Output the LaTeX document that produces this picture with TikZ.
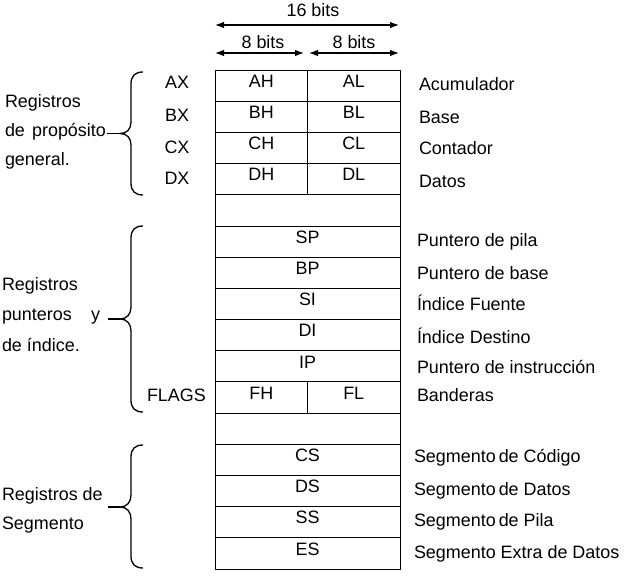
\documentclass[tikz,border=0pt]{standalone}
\usepackage{fontspec}
\setmainfont{Liberation Sans}
\usetikzlibrary{arrows.meta}
\begin{document}
\begin{tikzpicture}[x=1bp,y=-1bp,
  every node/.style={font=\fontsize{18}{21}\selectfont, inner sep=0pt, outer sep=0pt},
  cell/.style={draw, line width=0.9bp, minimum height=31.19bp, anchor=north west},
  full/.style={cell, minimum width=185bp},
  half/.style={cell, minimum width=92.5bp},
  txt/.style={anchor=base},
  lbl/.style={anchor=base west},
  arr/.style={{Latex[length=9bp,width=6.5bp]}-{Latex[length=9bp,width=6.5bp]}, line width=1.1bp},
  brace/.style={line width=1.3bp}]
\useasboundingbox (0,0) rectangle (626,587);

% ---- table cells ----
\node[half] (ah) at (215,70) {};       \node[half] (al) at (307.5,70) {};
\node[half] (bh) at (215,101.19) {};   \node[half] (bl) at (307.5,101.19) {};
\node[half] (ch) at (215,132.38) {};   \node[half] (cl) at (307.5,132.38) {};
\node[half] (dh) at (215,163.57) {};   \node[half] (dl) at (307.5,163.57) {};
\node[full] (e1) at (215,194.76) {};
\node[full] (sp) at (215,225.95) {};
\node[full] (bp) at (215,257.14) {};
\node[full] (si) at (215,288.33) {};
\node[full] (di) at (215,319.52) {};
\node[full] (ip) at (215,350.71) {};
\node[half] (fh) at (215,381.9) {};    \node[half] (fl) at (307.5,381.9) {};
\node[full] (e2) at (215,413.09) {};
\node[full] (cs) at (215,444.28) {};
\node[full] (ds) at (215,475.47) {};
\node[full] (ss) at (215,506.66) {};
\node[full] (es) at (215,537.85) {};

% ---- cell texts ----
\foreach \n/\t in {ah/AH,al/AL,bh/BH,bl/BL,ch/CH,cl/CL,dh/DH,dl/DL,sp/SP,bp/BP,si/SI,di/DI,ip/IP,fh/FH,fl/FL,cs/CS,ds/DS,ss/SS,es/ES}
  \node[txt] at ([yshift=-17.3bp]\n.north) {\t};

% ---- width arrows ----
\coordinate (a16l) at (215,25); \coordinate (a16r) at (399,25);
\draw[arr] (a16l) -- (a16r);
\node[txt] (t16) at (313,16.7) {16 bits};
\coordinate (a8al) at (215,53); \coordinate (a8ar) at (304,53);
\coordinate (a8bl) at (309,53); \coordinate (a8br) at (399,53);
\draw[arr] (a8al) -- (a8ar);
\draw[arr] (a8bl) -- (a8br);
\node[txt] (t8a) at (263,48.3) {8 bits};
\node[txt] (t8b) at (354,48.3) {8 bits};

% ---- left register names ----
\node[txt] (ax) at (177,88.3) {AX};
\node[txt] (bx) at (177,121.7) {BX};
\node[txt] (cx) at (177,153.3) {CX};
\node[txt] (dx) at (177,185) {DX};
\node[lbl] (flags) at (147,401.7) {FLAGS};

% ---- right descriptions ----
\node[lbl] (d1) at (419,90.7) {Acumulador};
\node[lbl] (d2) at (419,123.3) {Base};
\node[lbl] (d3) at (419,154.3) {Contador};
\node[lbl] (d4) at (419,187.7) {Datos};
\node[lbl] (d5) at (417,246.7) {Puntero de pila};
\node[lbl] (d6) at (417,279) {Puntero de base};
\node[lbl] (d7) at (417,310) {Índice Fuente};
\node[lbl] (d8) at (417,343.3) {Índice Destino};
\node[lbl] (d9) at (417,373.3) {Puntero de instrucción};
\node[lbl] (d10) at (417,401.7) {Banderas};
\node[lbl] (d11) at (414,462.3) {Segmento\hspace{0.17em}de Código};
\node[lbl] (d12) at (414,495.7) {Segmento\hspace{0.17em}de Datos};
\node[lbl] (d13) at (414,526.7) {Segmento\hspace{0.17em}de Pila};
\node[lbl] (d14) at (414,558.3) {Segmento Extra de Datos};

% ---- left group labels ----
\node[lbl] (g1a) at (5,107.7) {Registros};
\node[lbl] (g1b) at (5,137) {de\hspace{0.4em}propósito};
\node[lbl] (g1c) at (5,166) {general.};
\node[lbl] (g2a) at (2,290.7) {Registros};
\node[lbl] (g2b) at (2,320.5) {punteros};
\node[lbl] (g2y) at (91,320.5) {y};
\node[lbl] (g2c) at (2,351.7) {de índice.};
\node[lbl] (g3a) at (2,500) {Registros de};
\node[lbl] (g3b) at (2,529) {Segmento};

% ---- braces ----
\draw[brace] (143,72) .. controls (135,72) and (131,76) .. (131,84) -- (131,122)
  .. controls (131,129) and (127,133.5) .. (120,133.5)
  .. controls (127,133.5) and (131,138) .. (131,145) -- (131,183)
  .. controls (131,191) and (135,195) .. (143,195);
\draw[brace] (120,133.5) -- (107,133.5);

\draw[brace] (143,226) .. controls (135,226) and (131,230) .. (131,238) -- (131,307)
  .. controls (131,314) and (127,319) .. (120,319)
  .. controls (127,319) and (131,324) .. (131,331) -- (131,400)
  .. controls (131,408) and (135,412) .. (143,412);
\draw[brace] (120,319) -- (108,319);

\draw[brace] (143,445) .. controls (135,445) and (131,449) .. (131,457) -- (131,495)
  .. controls (131,502) and (127,507) .. (120,507)
  .. controls (127,507) and (131,512) .. (131,519) -- (131,556)
  .. controls (131,564) and (135,568) .. (143,568);
\draw[brace] (120,507) -- (108,507);
\end{tikzpicture}
\end{document}
